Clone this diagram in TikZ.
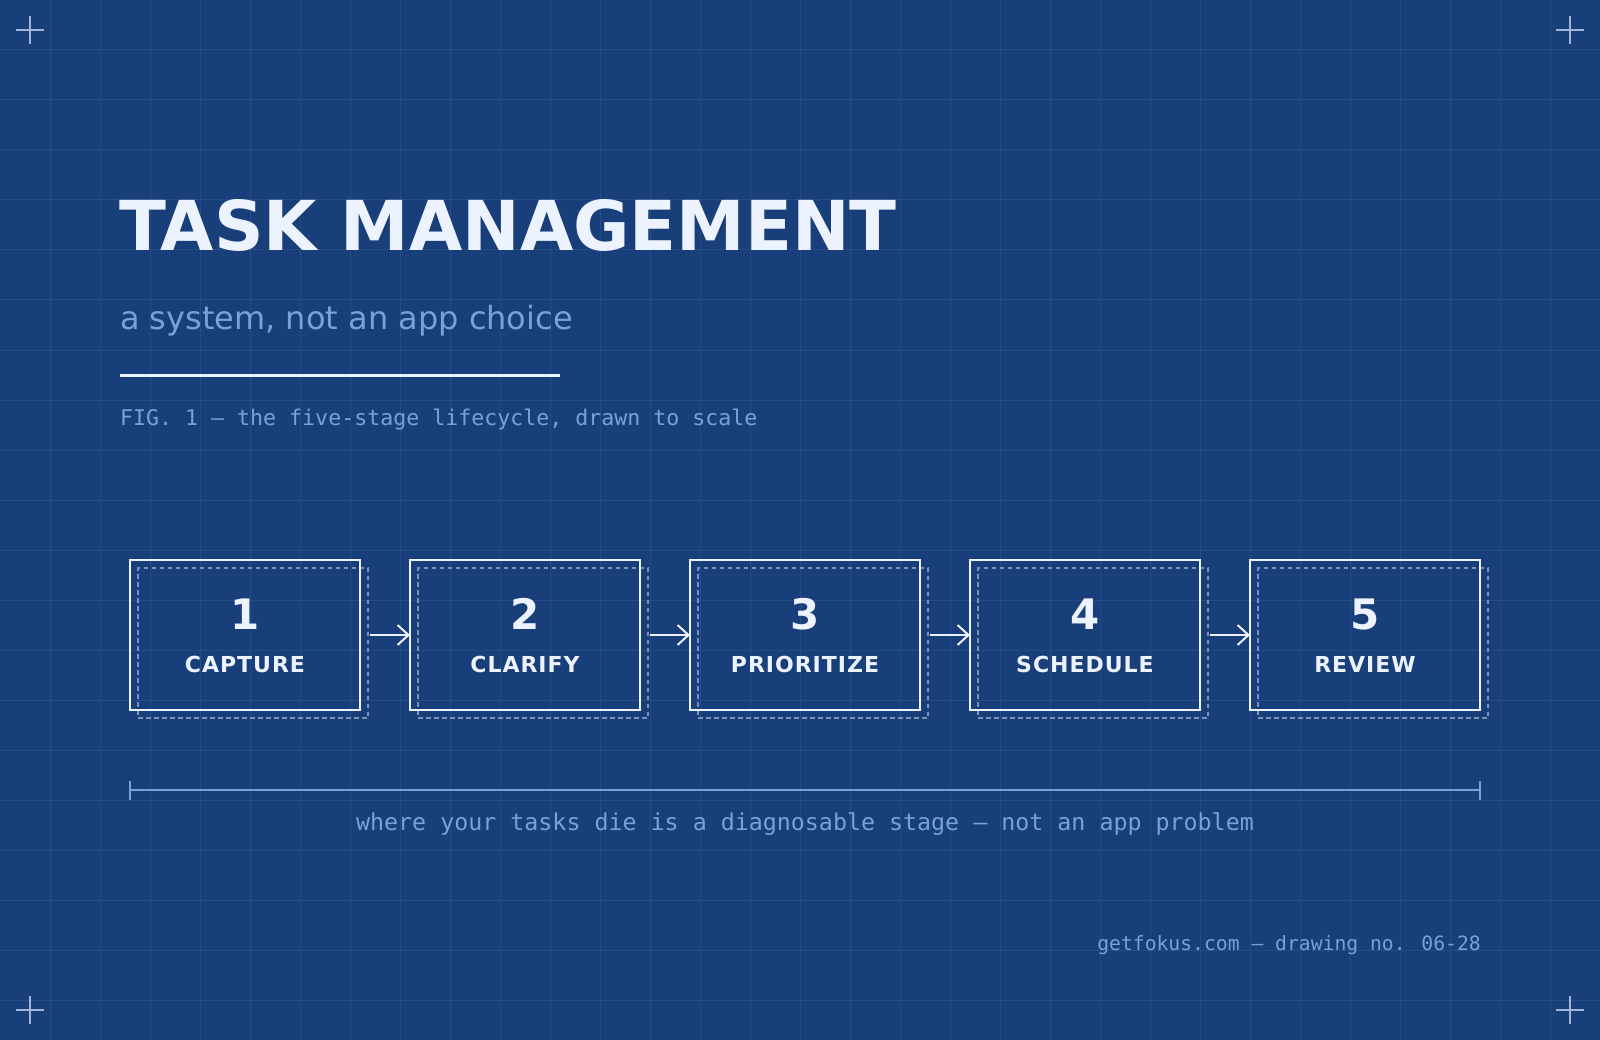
\documentclass[tikz,border=0pt]{standalone}
\usepackage{fontspec}
\setmainfont{DejaVu Sans}
\newfontfamily\monofont{DejaVu Sans Mono}
\newfontfamily\boxfont[LetterSpace=4.5]{DejaVu Sans}
\usetikzlibrary{arrows.meta}
\definecolor{bgblue}{RGB}{24,63,122}
\definecolor{gridc}{RGB}{37,76,134}
\definecolor{inkc}{RGB}{236,243,255}
\definecolor{subc}{RGB}{122,160,216}
\definecolor{dashc}{RGB}{124,146,184}
\definecolor{crossc}{RGB}{160,181,216}
\tikzset{
  gridline/.style={draw=gridc, line width=1pt},
  crossline/.style={draw=crossc, line width=2pt},
  stagebox/.style={draw=inkc, line width=2.5pt, minimum width=230pt, minimum height=150pt, inner sep=0pt, outer sep=0pt},
  shadowbox/.style={draw=dashc, line width=1.5pt, dash pattern=on 4.5pt off 3.5pt, minimum width=230pt, minimum height=150pt, inner sep=0pt, outer sep=0pt},
  numtext/.style={text=inkc, inner sep=0pt, anchor=base, font=\fontsize{42}{50}\selectfont\bfseries},
  labtext/.style={text=inkc, inner sep=0pt, anchor=base, font=\boxfont\fontsize{22}{26}\selectfont\bfseries},
  flowarrow/.style={draw=inkc, line width=2pt, -{Straight Barb[length=11pt, width=20pt, line width=2pt]}, shorten <=10pt},
  dimline/.style={draw=subc, line width=2pt},
}
\begin{document}
\begin{tikzpicture}[x=1pt, y=-1pt]
\useasboundingbox (0,0) rectangle (1600,1040);
\fill[bgblue] (0,0) rectangle (1600,1040);
% grid
\foreach \gx in {50,100,...,1550} \draw[gridline] (\gx,0) -- (\gx,1040);
\foreach \gy in {50,100,...,1000} \draw[gridline] (0,\gy) -- (1600,\gy);
% corner crosses
\foreach \cx/\cy in {30/30, 1570/30, 30/1010, 1570/1010} {
  \draw[crossline] (\cx-14,\cy) -- (\cx+14,\cy);
  \draw[crossline] (\cx,\cy-14) -- (\cx,\cy+14);
}
% title block
\node[anchor=base west, inner sep=0pt, text=inkc, font=\fontsize{68.8}{82}\selectfont\bfseries] (title) at (119,251) {TASK MANAGEMENT};
\node[anchor=base west, inner sep=0pt, text=subc, font=\fontsize{32}{38}\selectfont] (subtitle) at (120,330) {a system, not an app choice};
\coordinate (rulel) at (120,375);
\coordinate (ruler) at (560,375);
\draw[draw=inkc, line width=3pt] (rulel) -- (ruler);
\node[anchor=base west, inner sep=0pt, text=subc, font=\monofont\fontsize{21.6}{26}\selectfont] (fig) at (120,425.7) {FIG. 1 — the five-stage lifecycle, drawn to scale};
% stages
\foreach \i/\lab in {1/CAPTURE, 2/CLARIFY, 3/PRIORITIZE, 4/SCHEDULE, 5/REVIEW} {
  \pgfmathsetmacro{\bx}{245+280*(\i-1)}
  \node[shadowbox] (s\i) at (\bx+8,643) {};
  \node[stagebox] (b\i) at (\bx,635) {};
  \node[numtext] (n\i) at (\bx,629) {\i};
  \node[labtext] (l\i) at (\bx,672.3) {\lab};
}
\draw[flowarrow] (b1.east) -- (b2.west);
\draw[flowarrow] (b2.east) -- (b3.west);
\draw[flowarrow] (b3.east) -- (b4.west);
\draw[flowarrow] (b4.east) -- (b5.west);
% dimension line
\coordinate (dl) at (130,790);
\coordinate (dr) at (1480,790);
\draw[dimline] (dl) -- (dr);
\draw[dimline] ([yshift=-10pt]dl) -- ([yshift=9pt]dl);
\draw[dimline] ([yshift=-10pt]dr) -- ([yshift=9pt]dr);
\node[anchor=base, inner sep=0pt, text=subc, font=\monofont\fontsize{23.3}{28}\selectfont] (caption) at (805,830) {where your tasks die is a diagnosable stage — not an app problem};
% footer
\node[anchor=base east, inner sep=0pt, text=subc, font=\monofont\fontsize{19.7}{24}\selectfont] (footer) at (1481,950) {getfokus.com — drawing no. 06-28};
\end{tikzpicture}
\end{document}
